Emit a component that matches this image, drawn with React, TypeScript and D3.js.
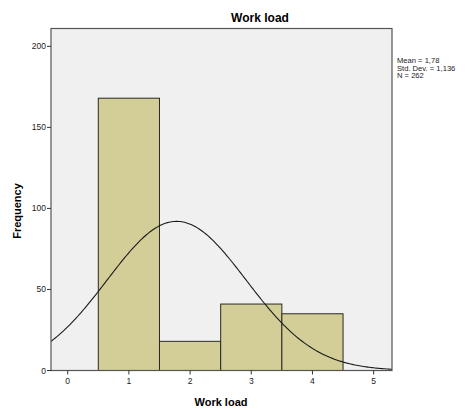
import React from "react";
import * as d3 from "d3";

const categories = [1, 2, 3, 4];
const counts = [168, 18, 41, 35];
const yTicks = [0, 50, 100, 150, 200];
const xTicks = [0, 1, 2, 3, 4, 5];
const statLines = ["Mean = 1,78", "Std. Dev. = 1,136", "N = 262"];
const mean = 1.78;
const sd = 1.136;
const n = 262;

export default function App() {
  const W = 465, H = 409;
  const L = 51, R = 392, T = 28.5, B = 370.5;
  const x = d3.scaleLinear().domain([-0.273, 5.3]).range([L, R]);
  const y = d3.scaleLinear().domain([0, 211]).range([B, T]);
  const font = "'Liberation Sans', Arial, sans-serif";

  const pts: [number, number][] = d3.range(0, 241).map((i) => {
    const v = -0.273 + (i / 240) * (5.3 + 0.273);
    const pdf = Math.exp(-0.5 * ((v - mean) / sd) ** 2) / (sd * Math.sqrt(2 * Math.PI));
    return [v, n * pdf];
  });
  const line = d3.line<[number, number]>().x((d) => x(d[0])).y((d) => y(d[1]));

  return (
    <svg width={W} height={H} style={{ position: "absolute", left: 0, top: 0 }}>
      <rect x={0} y={0} width={W} height={H} fill="#fff" />
      <rect x={L} y={T} width={R - L} height={B - T} fill="#f0f0f0" />
      {categories.map((c, i) => (
        <rect key={c} x={x(c - 0.5)} y={y(counts[i])} width={x(c + 0.5) - x(c - 0.5)}
          height={y(0) - y(counts[i])} fill="#d3ce98" stroke="#2a2a22" strokeWidth={1} />
      ))}
      <path d={line(pts) || ""} fill="none" stroke="#1a1a1a" strokeWidth={1.1} />
      <rect x={L} y={T} width={R - L} height={B - T} fill="none" stroke="#555" strokeWidth={1.2} />
      {yTicks.map((t) => (
        <g key={t}>
          <line x1={L - 4} x2={L} y1={y(t)} y2={y(t)} stroke="#333" />
          <text x={L - 5} y={y(t) + 3} textAnchor="end" fontSize={8.5} fontFamily={font} fill="#222">{t}</text>
        </g>
      ))}
      {xTicks.map((t) => (
        <g key={t}>
          <line x1={x(t)} x2={x(t)} y1={B} y2={B + 4} stroke="#333" />
          <text x={x(t)} y={B + 13} textAnchor="middle" fontSize={8.5} fontFamily={font} fill="#222">{t}</text>
        </g>
      ))}
      <text x={260} y={22} textAnchor="middle" fontSize={12} fontWeight="bold" fontFamily={font} fill="#000">Work load</text>
      <text x={221} y={406} textAnchor="middle" fontSize={11} fontWeight="bold" fontFamily={font} fill="#000">Work load</text>
      <text transform={`translate(21,211) rotate(-90)`} textAnchor="middle" fontSize={11} fontWeight="bold" fontFamily={font} fill="#000">Frequency</text>
      {statLines.map((s, i) => (
        <text key={i} x={397} y={63 + i * 7.6} fontSize={7.6} fontFamily={font} fill="#222">{s}</text>
      ))}
    </svg>
  );
}
